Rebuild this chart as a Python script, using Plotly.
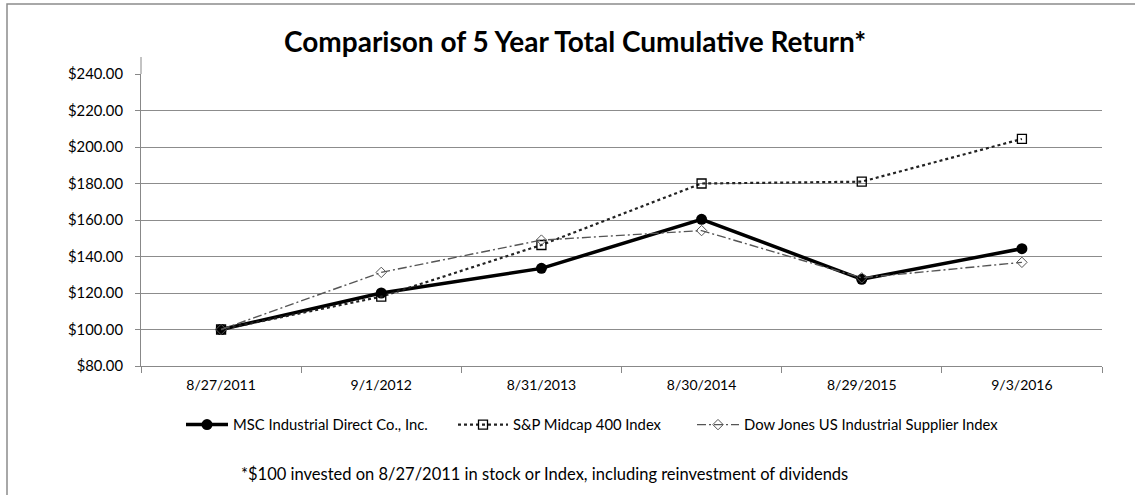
import plotly.graph_objects as go

dates = ["8/27/2011", "9/1/2012", "8/31/2013", "8/30/2014", "8/29/2015", "9/3/2016"]
msc = [100.0, 120.0, 133.5, 160.4, 127.5, 144.3]
sp400 = [100.0, 118.0, 146.3, 180.0, 181.0, 204.4]
dowjones = [100.0, 131.3, 149.0, 154.2, 128.3, 136.8]

names = ["MSC Industrial Direct Co., Inc.", "S&P Midcap 400 Index", "Dow Jones US Industrial Supplier Index"]
title_text = "Comparison of 5 Year Total Cumulative Return*"
footnote = "*$100 invested on 8/27/2011 in stock or Index, including reinvestment of dividends"

W, H = 1135, 495
ML, MR, MT, MB = 141, 33, 74, 129
FONT = "Lato, Open Sans, sans-serif"
pw = W - ML - MR
ph = H - MT - MB


def px_x(x):
    return (x - ML) / pw


def px_y(y):
    return (H - MB - y) / ph


xs = list(range(len(dates)))

fig = go.Figure()
fig.add_trace(go.Scatter(
    x=xs, y=msc, name=names[0], mode="lines+markers", legend="legend",
    line=dict(color="black", width=3.5),
    marker=dict(symbol="circle", size=11, color="black"),
))
fig.add_trace(go.Scatter(
    x=xs, y=sp400, name=names[1], mode="lines+markers", legend="legend2",
    line=dict(color="#222222", width=2.2, dash="dot"),
    marker=dict(symbol="square-open", size=9, color="black", line=dict(width=1.3)),
))
fig.add_trace(go.Scatter(
    x=xs, y=dowjones, name=names[2], mode="lines+markers", legend="legend3",
    line=dict(color="#555555", width=1.4, dash="9px,3px,2px,3px"),
    marker=dict(symbol="diamond-open", size=8, color="#555555", line=dict(width=1)),
))

# frame of the picture
fig.add_shape(type="rect", xref="paper", yref="paper",
              x0=px_x(7), x1=px_x(W + 20), y0=px_y(H + 20), y1=px_y(4),
              line=dict(color="#8c8c8c", width=1.5), fillcolor="rgba(0,0,0,0)", layer="below")
# y-axis line extends a little above the top gridline
fig.add_shape(type="line", xref="paper", yref="paper",
              x0=0, x1=0, y0=1, y1=px_y(57),
              line=dict(color="#888888", width=1))

fig.add_annotation(text=title_text, xref="paper", yref="paper",
                   x=px_x(575), y=px_y(41), showarrow=False,
                   font=dict(family=FONT, size=28, color="black", weight="bold"),
                   xanchor="center", yanchor="middle")
fig.add_annotation(text=footnote, xref="paper", yref="paper",
                   x=px_x(544), y=px_y(474), showarrow=False,
                   font=dict(family=FONT, size=16.5, color="black"),
                   xanchor="center", yanchor="middle")

LEG_FONT = dict(family=FONT, size=14.8, color="black")
leg_common = dict(orientation="h", xanchor="left", yanchor="middle",
                  y=px_y(425), font=LEG_FONT, bgcolor="rgba(0,0,0,0)",
                  borderwidth=0)

fig.update_layout(
    width=W, height=H,
    margin=dict(l=ML, r=MR, t=MT, b=MB),
    paper_bgcolor="white", plot_bgcolor="white",
    font=dict(family=FONT, size=13, color="black"),
    showlegend=True,
    legend=dict(x=px_x(186 - 5), itemwidth=42, **leg_common),
    legend2=dict(x=px_x(458 - 5), itemwidth=50, **leg_common),
    legend3=dict(x=px_x(697 - 5), itemwidth=42, **leg_common),
    xaxis=dict(
        range=[-0.5, len(dates) - 0.5],
        tickmode="array", tickvals=xs, ticktext=dates,
        ticks="", showgrid=False, zeroline=False,
        showline=True, linecolor="#888888", linewidth=1,
        tickfont=dict(family=FONT, size=14, color="black"),
        minor=dict(tickmode="array", tickvals=[i - 0.5 for i in range(len(dates) + 1)],
                   ticks="outside", ticklen=6, tickcolor="#888888", showgrid=False),
        ticklabelstandoff=6,
    ),
    yaxis=dict(
        range=[80, 240], tickmode="linear", tick0=80, dtick=20,
        tickprefix="$", tickformat=".2f",
        showgrid=True, gridcolor="#8c8c8c", gridwidth=1,
        zeroline=False, showline=True, linecolor="#888888", linewidth=1,
        ticks="outside", ticklen=5, tickcolor="#888888",
        tickfont=dict(family=FONT, size=14.8, color="black"),
        ticklabelstandoff=9,
    ),
)

fig.write_html("out.html", config={"displayModeBar": False},
               post_script="document.body.style.margin='0';document.body.style.overflow='hidden';")
